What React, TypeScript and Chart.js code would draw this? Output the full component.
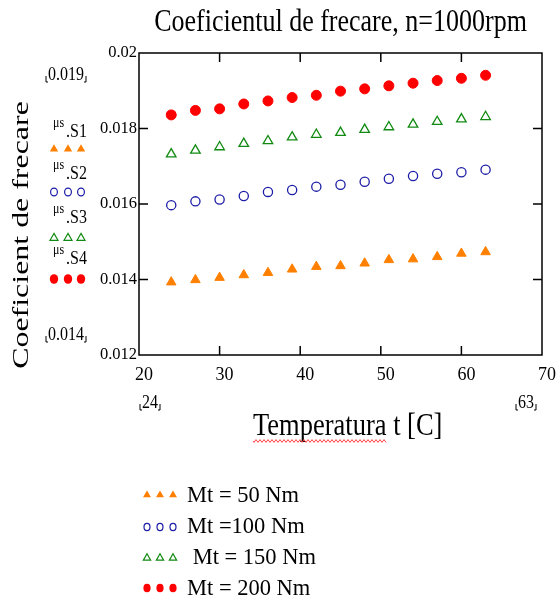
import React, { useEffect, useRef } from 'react';
import { Chart, registerables } from 'chart.js';

Chart.register(...registerables);

// ---------- data ----------
const temperatures = [24, 27, 30, 33, 36, 39, 42, 45, 48, 51, 54, 57, 60, 63];
const mu50 = [0.01393, 0.01399, 0.01405, 0.01412, 0.01418, 0.01427, 0.01434, 0.01436, 0.01443, 0.01452, 0.01454, 0.0146, 0.01469, 0.01473];
const mu100 = [0.01597, 0.01607, 0.01612, 0.01621, 0.01632, 0.01637, 0.01646, 0.01651, 0.01659, 0.01667, 0.01674, 0.0168, 0.01684, 0.01691];
const mu150 = [0.01732, 0.01742, 0.01751, 0.0176, 0.01767, 0.01777, 0.01784, 0.01789, 0.01797, 0.01804, 0.01811, 0.01818, 0.01825, 0.01831];
const mu200 = [0.01836, 0.01848, 0.01852, 0.01865, 0.01873, 0.01882, 0.01888, 0.01899, 0.01905, 0.01913, 0.0192, 0.01927, 0.01933, 0.01941];

const seriesLegend = ['Mt = 50 Nm', 'Mt =100 Nm', ' Mt = 150 Nm', 'Mt = 200 Nm'];
const seriesNames = ['S1', 'S2', 'S3', 'S4'];
const seriesPrefix = 'μs';
const chartTitle = 'Coeficientul de frecare, n=1000rpm';
const yTitle = 'Coeficient de frecare';
const xTitle = 'Temperatura t [C]';
const xMin = 20;
const xMax = 70;
const xStep = 10;
const yMin = 0.012;
const yMax = 0.02;
const yStep = 0.002;
const yRangeLabels = ['0.019', '0.014'];
const xRangeLabels = ['24', '63'];

const colors = ['#FF8000', '#1C1CA6', '#118A11', '#FF0000'];
const shapes = ['triangle', 'circle', 'triangle', 'circle'];
const filled = [true, false, false, true];

const SERIF = "'Liberation Serif', 'Times New Roman', serif";

function stretchedText(ctx: CanvasRenderingContext2D, text: string, x: number, y: number, size: number, sy: number, align: CanvasTextAlign = 'left') {
  ctx.save();
  ctx.translate(x, y);
  ctx.scale(1, sy);
  ctx.font = `${size}px ${SERIF}`;
  ctx.textAlign = align;
  ctx.textBaseline = 'alphabetic';
  ctx.fillStyle = '#000';
  ctx.fillText(text, 0, 0);
  ctx.restore();
}

function marker(ctx: CanvasRenderingContext2D, shape: string, x: number, y: number, r: number, color: string, fill: boolean, sy = 1) {
  ctx.save();
  ctx.translate(x, y);
  ctx.scale(1, sy);
  ctx.beginPath();
  if (shape === 'triangle') {
    ctx.moveTo(0, -r);
    ctx.lineTo(r * 0.866, r * 0.5);
    ctx.lineTo(-r * 0.866, r * 0.5);
    ctx.closePath();
  } else {
    ctx.arc(0, 0, r, 0, Math.PI * 2);
  }
  ctx.restore();
  if (fill) {
    ctx.fillStyle = color;
    ctx.fill();
  } else {
    ctx.strokeStyle = color;
    ctx.lineWidth = 1.2;
    ctx.stroke();
  }
}

function bracketLabel(ctx: CanvasRenderingContext2D, text: string, x: number, baseline: number) {
  ctx.save();
  ctx.font = `16px ${SERIF}`;
  const w = ctx.measureText(text).width;
  ctx.restore();
  stretchedText(ctx, text, x, baseline, 16, 1.2, 'left');
  ctx.save();
  ctx.strokeStyle = '#000';
  ctx.lineWidth = 1;
  ctx.beginPath();
  const l = x - 2;
  const r = x + w + 2;
  ctx.moveTo(l, baseline - 4);
  ctx.lineTo(l, baseline + 2);
  ctx.lineTo(l + 2, baseline + 2);
  ctx.moveTo(r, baseline - 4);
  ctx.lineTo(r, baseline + 2);
  ctx.lineTo(r - 2, baseline + 2);
  ctx.stroke();
  ctx.restore();
}

const decorPlugin = {
  id: 'decor',
  afterDraw(chart: any) {
    const ctx: CanvasRenderingContext2D = chart.ctx;
    const { left, right, top, bottom } = chart.chartArea;
    const xs = chart.scales.x;
    const ys = chart.scales.y;

    // frame
    ctx.save();
    ctx.strokeStyle = '#000';
    ctx.lineWidth = 1.5;
    ctx.strokeRect(left, top, right - left, bottom - top);
    ctx.beginPath();
    const tl = 9;
    xs.ticks.forEach((t: any) => {
      const px = xs.getPixelForValue(t.value);
      if (Math.abs(px - left) < 1 || Math.abs(px - right) < 1) return;
      ctx.moveTo(px, bottom);
      ctx.lineTo(px, bottom - tl);
      ctx.moveTo(px, top);
      ctx.lineTo(px, top + tl);
    });
    ys.ticks.forEach((t: any) => {
      const py = ys.getPixelForValue(t.value);
      if (Math.abs(py - top) < 1 || Math.abs(py - bottom) < 1) return;
      ctx.moveTo(left, py);
      ctx.lineTo(left + tl, py);
      ctx.moveTo(right, py);
      ctx.lineTo(right - tl, py);
    });
    ctx.stroke();
    ctx.restore();

    // title
    stretchedText(ctx, chartTitle, 340.5, 31, 26, 1.18, 'center');

    // y title (rotated)
    ctx.save();
    ctx.translate(28, 235);
    ctx.rotate(-Math.PI / 2);
    ctx.scale(1.33, 1);
    ctx.font = `24px ${SERIF}`;
    ctx.textAlign = 'center';
    ctx.textBaseline = 'alphabetic';
    ctx.fillStyle = '#000';
    ctx.fillText(yTitle, 0, 0);
    ctx.restore();

    // x title
    stretchedText(ctx, xTitle, 253, 435, 26.5, 1.22, 'left');
    // spell-check wavy underline
    ctx.save();
    ctx.font = `26.5px ${SERIF}`;
    const wWord = ctx.measureText(xTitle.split(' ')[0]).width;
    ctx.strokeStyle = '#FF4040';
    ctx.lineWidth = 1;
    ctx.beginPath();
    for (let i = 0; i <= wWord; i += 1) {
      const yy = 441 + Math.sin((i / 4) * Math.PI * 2) * 1.4;
      if (i === 0) ctx.moveTo(253 + i, yy);
      else ctx.lineTo(253 + i, yy);
    }
    ctx.stroke();
    ctx.restore();

    // range labels
    bracketLabel(ctx, yRangeLabels[0], 48, 80);
    bracketLabel(ctx, yRangeLabels[1], 48, 340);
    bracketLabel(ctx, xRangeLabels[0], 142, 408);
    bracketLabel(ctx, xRangeLabels[1], 518, 408);

    // left series legend
    const sBase = [137, 179, 223, 264];
    const sMark = [149, 192, 238, 279];
    const leftR = [4.8, 3.4, 4.6, 4.2];
    seriesNames.forEach((n, i) => {
      stretchedText(ctx, seriesPrefix, 53, sBase[i] - 10, 12, 1.2, 'left');
      stretchedText(ctx, '.' + n, 66, sBase[i], 16, 1.2, 'left');
      [54, 68, 81].forEach((mx) => {
        marker(ctx, shapes[i], mx, sMark[i], leftR[i], colors[i], filled[i], shapes[i] === 'circle' ? 1.15 : 1);
      });
    });

    // bottom legend
    const lRow = [495, 527, 558, 588];
    const lBase = [502, 533, 564, 595];
    const botR = [4.6, 3.0, 4.2, 3.6];
    seriesLegend.forEach((txt, i) => {
      [147, 160, 173].forEach((mx) => {
        marker(ctx, shapes[i], mx, lRow[i], botR[i], colors[i], filled[i], shapes[i] === 'circle' ? 1.2 : 1);
      });
      stretchedText(ctx, txt, 187, lBase[i], 22.5, 1.05, 'left');
    });
  },
};

export default function App() {
  const ref = useRef<HTMLCanvasElement | null>(null);

  useEffect(() => {
    if (!ref.current) return;
    const seriesData = [mu50, mu100, mu150, mu200];
    const radius = [5.5, 4.6, 5.5, 5.0];
    const chart = new Chart(ref.current, {
      type: 'scatter',
      data: {
        datasets: seriesData.map((vals, i) => ({
          label: seriesLegend[i],
          data: temperatures.map((t, k) => ({ x: t, y: vals[k] })),
          pointStyle: shapes[i] as any,
          pointRadius: radius[i],
          pointBackgroundColor: filled[i] ? colors[i] : 'rgba(0,0,0,0)',
          pointBorderColor: colors[i],
          pointBorderWidth: filled[i] ? 1 : 1.3,
          showLine: false,
        })),
      },
      options: {
        animation: false,
        responsive: false,
        events: [],
        layout: { padding: { left: 0, top: 53, right: 14, bottom: 208 } },
        plugins: {
          legend: { display: false },
          title: { display: false },
          tooltip: { enabled: false },
        },
        scales: {
          x: {
            type: 'linear',
            min: xMin,
            max: xMax,
            grid: { display: false, drawTicks: false },
            border: { display: false },
            ticks: {
              stepSize: xStep,
              padding: 9,
              labelOffset: 5,
              color: '#000',
              font: { family: SERIF, size: 18 },
              maxRotation: 0,
            },
            afterFit: (s: any) => {
              s.height = 40;
            },
          },
          y: {
            type: 'linear',
            min: yMin,
            max: yMax,
            grid: { display: false, drawTicks: false },
            border: { display: false },
            ticks: {
              stepSize: yStep,
              padding: 2,
              color: '#000',
              font: { family: SERIF, size: 16.5 },
              callback: (v: any) => parseFloat(Number(v).toFixed(4)).toString(),
            },
            afterFit: (s: any) => {
              s.width = 139;
            },
          },
        },
      },
      plugins: [decorPlugin],
    });
    return () => chart.destroy();
  }, []);

  return (
    <div style={{ position: 'absolute', left: 0, top: 0, width: 560, height: 603, background: '#fff' }}>
      <canvas ref={ref} width={560} height={603} style={{ display: 'block' }} />
    </div>
  );
}
